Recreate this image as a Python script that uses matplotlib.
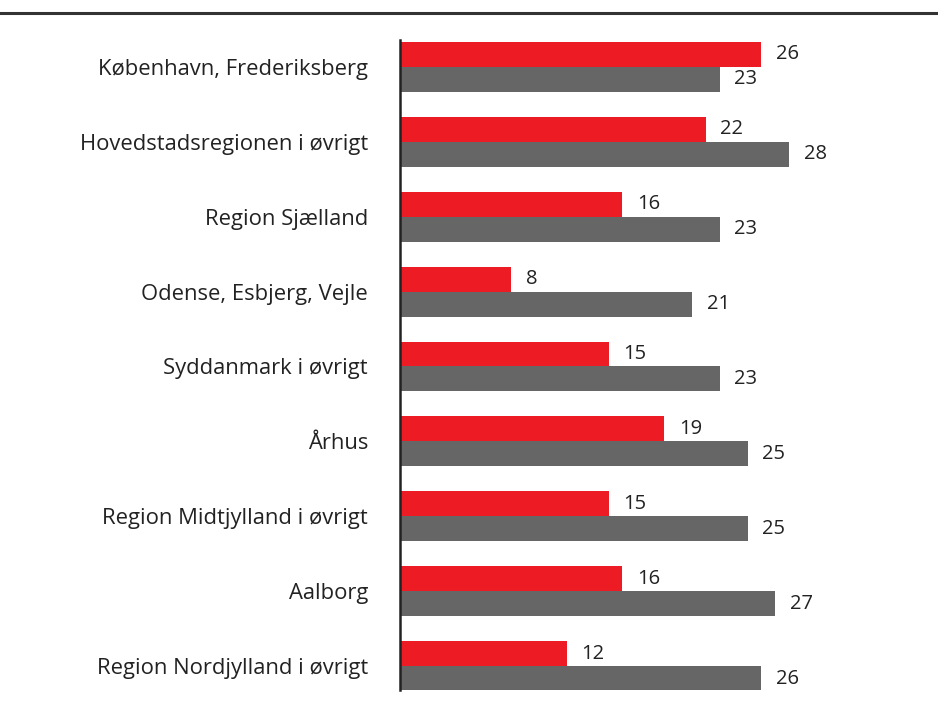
import numpy as np
from matplotlib import pyplot as plt

# Data
regions = ["København, Frederiksberg", "Hovedstadsregionen i øvrigt", "Region Sjælland",
           "Odense, Esbjerg, Vejle", "Syddanmark i øvrigt", "Århus",
           "Region Midtjylland i øvrigt", "Aalborg", "Region Nordjylland i øvrigt"]
red_values = [26, 22, 16, 8, 15, 19, 15, 16, 12]
gray_values = [23, 28, 23, 21, 23, 25, 25, 27, 26]

RED = "#ed1c24"
GRAY = "#666666"
TEXT = "#222222"

fig = plt.figure(figsize=(9.38, 7.06), dpi=100)
ax = fig.add_axes([400 / 938, 16 / 706, 538 / 938, 650 / 706])

y = np.arange(len(regions))
h = 1 / 3
ax.barh(y - h / 2, red_values, height=h, color=RED)
ax.barh(y + h / 2, gray_values, height=h, color=GRAY)

for yi, r, g in zip(y, red_values, gray_values):
    ax.text(r + 1.05, yi - h / 2, str(r), va="center", ha="left",
            fontsize=14.5, color=TEXT, family="Open Sans")
    ax.text(g + 1.05, yi + h / 2, str(g), va="center", ha="left",
            fontsize=14.5, color=TEXT, family="Open Sans")

ax.set_xlim(0, 38.7)
ax.set_ylim(len(regions) - 1 + 0.32, -0.36)
ax.set_yticks(y)
ax.set_yticklabels(regions, fontsize=15.8, color=TEXT, family="Open Sans",
                   va="center_baseline")
ax.tick_params(axis="y", length=0, pad=23)
ax.set_xticks([])
for side in ["top", "right", "bottom"]:
    ax.spines[side].set_visible(False)
ax.spines["left"].set_color(TEXT)
ax.spines["left"].set_linewidth(1.8)

# Rule across the top of the figure
fig.add_artist(plt.Line2D([0, 1], [1 - 13 / 706, 1 - 13 / 706], color="#333333", lw=2.2))

fig.savefig("out.png", dpi=100)
